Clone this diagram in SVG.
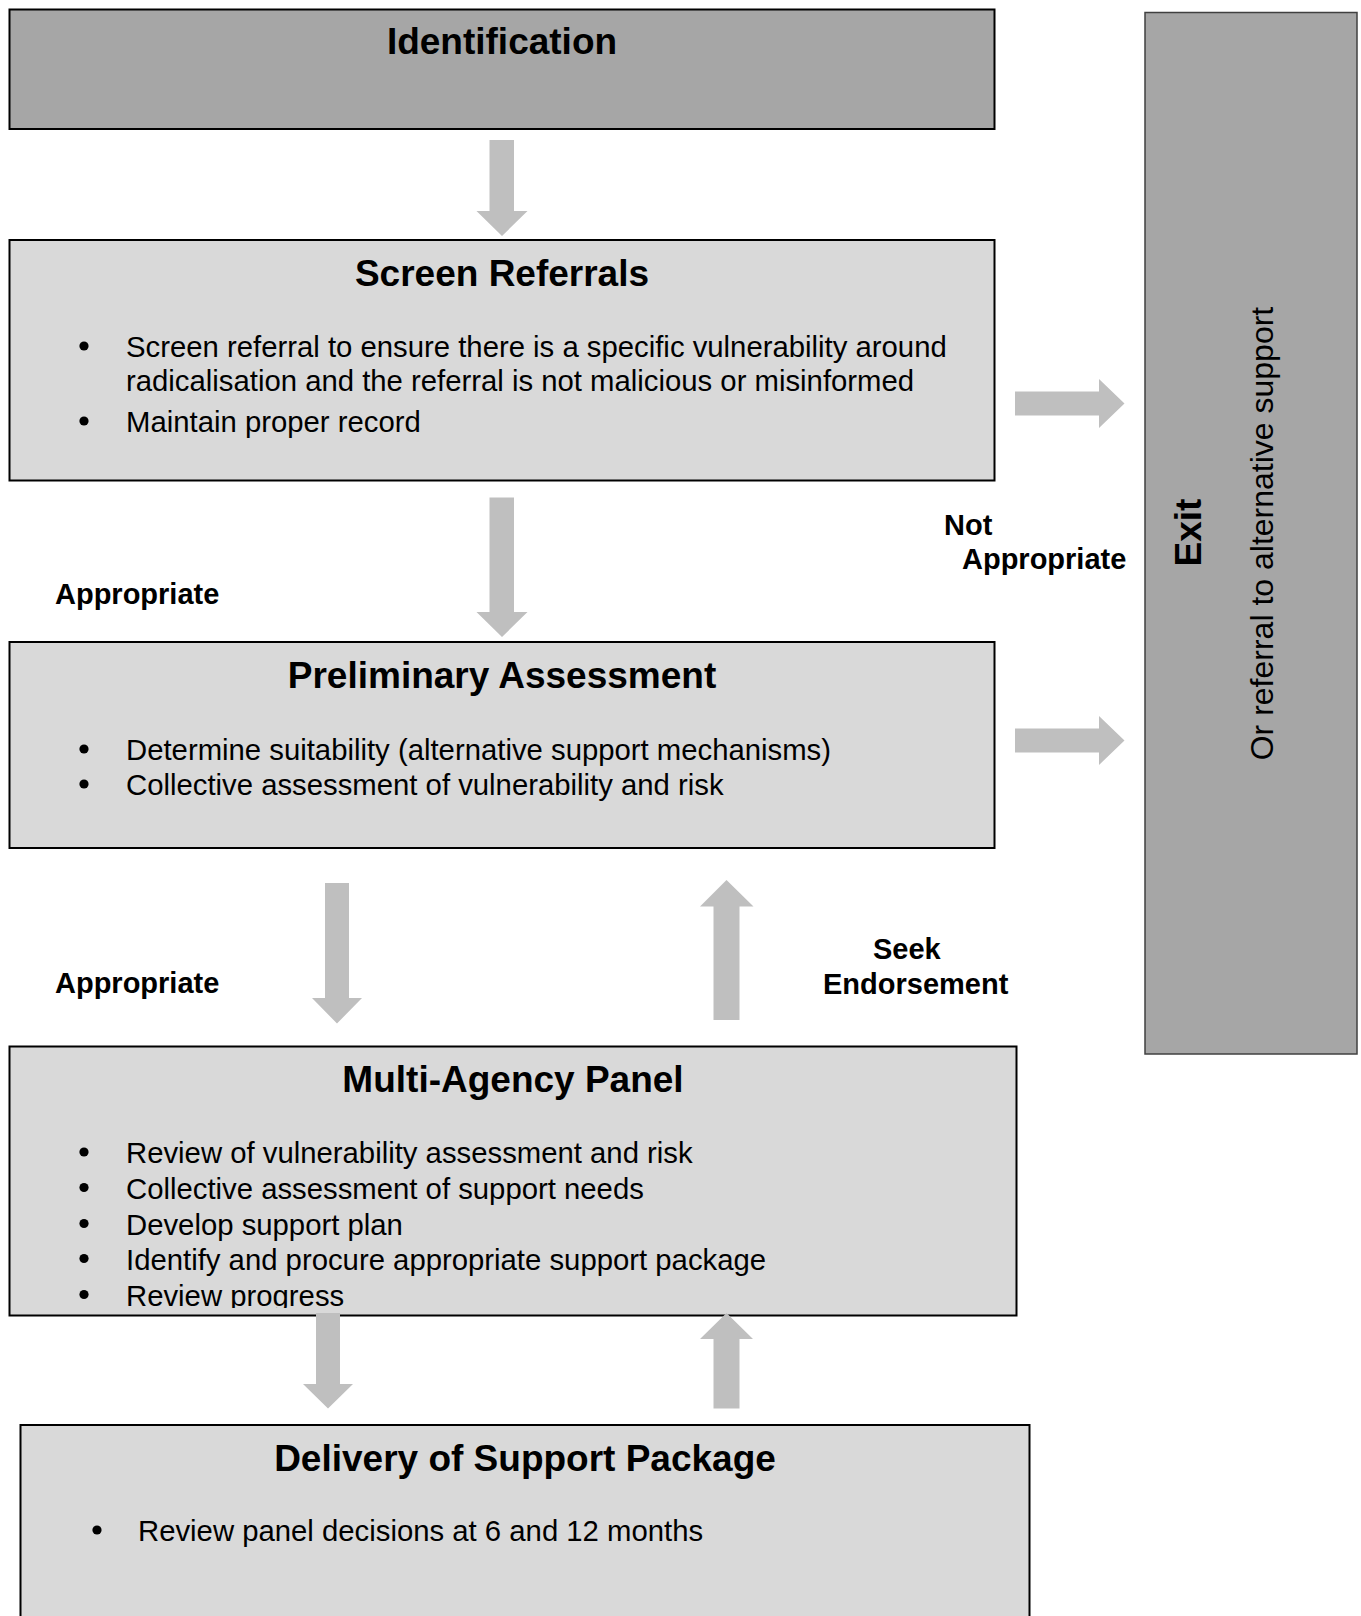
<svg xmlns="http://www.w3.org/2000/svg" width="1361" height="1616" viewBox="0 0 1361 1616">
<defs>
<style>
text{font-family:"Liberation Sans",Arial,Helvetica,sans-serif;fill:#000}
.title{font-size:37px;font-weight:bold;text-anchor:middle}
.body{font-size:29.3px}
.dot{fill:#000}
.lbl{font-size:29px;font-weight:bold}
.dark{fill:#a6a6a6;stroke:#000;stroke-width:2}
.exitbox{fill:#a6a6a6;stroke:#404040;stroke-width:1.5}
.light{fill:#d9d9d9;stroke:#000;stroke-width:2}
.arr{fill:#bfbfbf}
</style>
<clipPath id="clipMulti"><rect x="10" y="1047" width="1006" height="261"/></clipPath>
</defs>
<rect width="1361" height="1616" fill="#fff"/>

<g id="identification">
<rect class="dark" x="9.5" y="9.5" width="985" height="119.5"/>
<text class="title" x="502" y="54">Identification</text>
</g>

<g id="screen-referrals">
<rect class="light" x="9.5" y="240" width="985" height="240.5"/>
<text class="title" x="502" y="286">Screen Referrals</text>
<circle class="dot" cx="84" cy="346" r="4.6"/>
<text class="body" x="126" y="357">Screen referral to ensure there is a specific vulnerability around</text>
<text class="body" x="126" y="391">radicalisation and the referral is not malicious or misinformed</text>
<circle class="dot" cx="84" cy="421" r="4.6"/>
<text class="body" x="126" y="432">Maintain proper record</text>
</g>

<g id="preliminary-assessment">
<rect class="light" x="9.5" y="642" width="985" height="206"/>
<text class="title" x="502" y="688">Preliminary Assessment</text>
<circle class="dot" cx="84" cy="749" r="4.6"/>
<text class="body" x="126" y="760">Determine suitability (alternative support mechanisms)</text>
<circle class="dot" cx="84" cy="784" r="4.6"/>
<text class="body" x="126" y="795">Collective assessment of vulnerability and risk</text>
</g>

<g id="multi-agency-panel">
<rect class="light" x="9.5" y="1046.5" width="1007" height="269"/>
<text class="title" x="513" y="1092">Multi-Agency Panel</text>
<g clip-path="url(#clipMulti)">
<circle class="dot" cx="84" cy="1152" r="4.6"/>
<text class="body" x="126" y="1163">Review of vulnerability assessment and risk</text>
<circle class="dot" cx="84" cy="1187.5" r="4.6"/>
<text class="body" x="126" y="1198.5">Collective assessment of support needs</text>
<circle class="dot" cx="84" cy="1223.5" r="4.6"/>
<text class="body" x="126" y="1234.5">Develop support plan</text>
<circle class="dot" cx="84" cy="1258.5" r="4.6"/>
<text class="body" x="126" y="1269.5">Identify and procure appropriate support package</text>
<circle class="dot" cx="84" cy="1294.5" r="4.6"/>
<text class="body" x="126" y="1305.5">Review progress</text>
</g>
</g>

<g id="delivery-of-support-package">
<rect class="light" x="20.5" y="1425" width="1009" height="220"/>
<text class="title" x="525" y="1471">Delivery of Support Package</text>
<circle class="dot" cx="97" cy="1530" r="4.6"/>
<text class="body" x="138" y="1541">Review panel decisions at 6 and 12 months</text>
</g>

<g id="exit">
<rect class="exitbox" x="1145" y="12.5" width="212" height="1041.5"/>
<text class="title" transform="translate(1201,532.5) rotate(-90)" x="0" y="0">Exit</text>
<text class="body" style="font-size:32px;text-anchor:middle" transform="translate(1273,533.5) rotate(-90)" x="0" y="0">Or referral to alternative support</text>
</g>

<g id="connectors">
<polygon class="arr" points="489.5,140 514,140 514,211 527.5,211 502,236 476.5,211 489.5,211"/>
<polygon class="arr" points="489.5,497.5 514,497.5 514,612 527.5,612 502,637 476.5,612 489.5,612"/>
<polygon class="arr" points="1015,391.5 1099,391.5 1099,379 1124.5,403.5 1099,428 1099,415.5 1015,415.5"/>
<polygon class="arr" points="1015,728.5 1099,728.5 1099,716 1124.5,740.5 1099,765 1099,752.5 1015,752.5"/>
<polygon class="arr" points="325,883 349,883 349,998 362,998 337,1023.5 312,998 325,998"/>
<polygon class="arr" points="713.5,1020 739.5,1020 739.5,906.5 753.5,906.5 726.5,880 700,906.5 713.5,906.5"/>
<polygon class="arr" points="316,1313 340,1313 340,1384 353,1384 328,1408.5 303,1384 316,1384"/>
<polygon class="arr" points="713.5,1408.5 739.5,1408.5 739.5,1339 753,1339 726.5,1313 700,1339 713.5,1339"/>
<text class="lbl" x="55" y="603.5">Appropriate</text>
<text class="lbl" x="944" y="535">Not</text>
<text class="lbl" x="962" y="569">Appropriate</text>
<text class="lbl" x="55" y="993">Appropriate</text>
<text class="lbl" x="873" y="959">Seek</text>
<text class="lbl" x="823" y="993.5">Endorsement</text>
</g>
</svg>
